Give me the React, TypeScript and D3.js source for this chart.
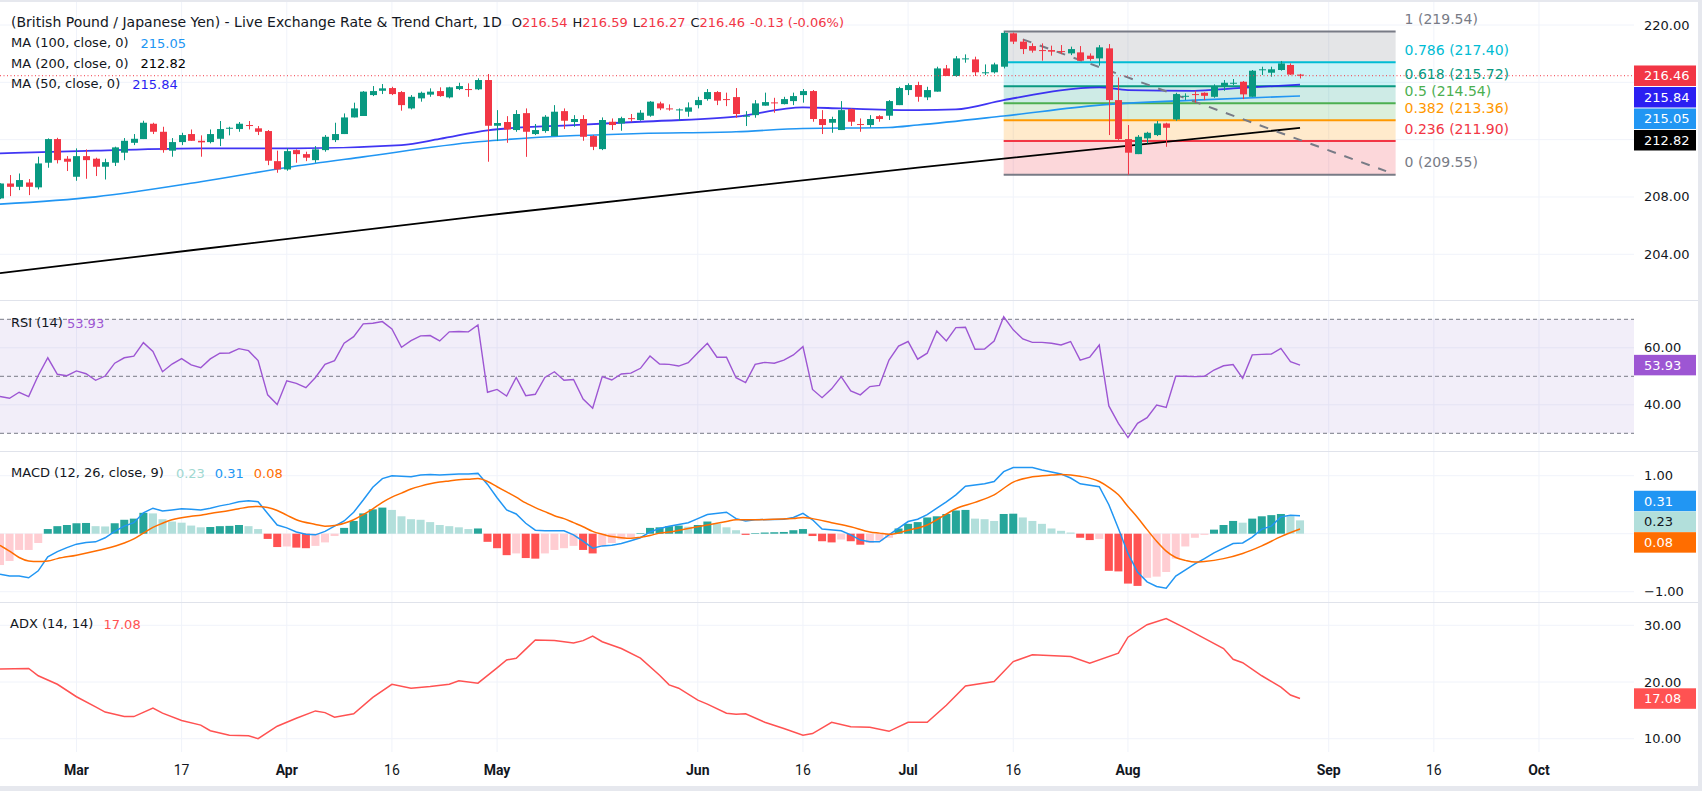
import React from "react";
import * as d3 from "d3";

// ---------- DATA ----------
const opens = [207.90,208.94,208.71,209.01,208.67,210.39,212.04,210.67,209.41,210.85,
210.67,210.11,210.39,211.09,211.78,212.04,213.11,212.55,211.23,211.83,
212.39,211.92,211.83,212.06,212.79,212.74,213.02,212.79,212.60,210.50,
209.92,211.27,210.99,210.57,211.27,211.97,212.39,213.55,213.65,215.11,
215.41,215.60,215.32,214.18,214.88,215.14,215.39,214.95,215.53,215.53,
215.51,216.16,212.97,213.23,212.67,213.85,212.39,212.60,212.25,213.99,
213.23,213.44,212.25,211.34,213.25,213.13,213.50,213.37,213.67,214.53,
214.18,214.06,213.95,214.41,214.83,215.32,214.83,214.97,213.60,213.71,
214.37,214.60,214.48,214.69,215.11,215.39,213.44,213.18,212.67,214.13,
213.09,213.02,213.64,213.67,214.41,215.46,215.81,214.95,215.35,216.97,
216.44,217.60,217.60,216.65,216.70,217.09,219.42,218.84,218.53,218.25,
218.25,218.18,218.02,218.09,217.86,217.67,218.37,214.76,212.04,210.99,
212.09,212.32,213.13,213.41,215.02,215.18,215.27,214.99,215.69,215.93,
216.04,214.99,216.86,216.67,216.86,217.21,216.54];
const highs = [208.96,209.53,209.64,209.25,210.81,212.09,212.13,210.85,211.39,211.32,
210.74,210.67,211.51,212.11,212.39,213.32,213.18,212.90,212.11,212.48,
212.71,212.30,212.71,213.30,212.90,213.23,213.30,212.95,212.67,211.23,
211.39,211.32,211.16,211.55,212.32,213.18,213.83,214.58,215.39,215.74,
215.88,215.69,215.39,215.11,215.35,215.58,215.65,215.69,215.97,215.93,
216.28,216.58,214.06,213.64,214.06,214.18,213.09,213.71,214.41,214.18,
213.71,213.71,212.32,213.55,213.48,213.60,213.79,214.06,214.69,214.65,
214.46,214.18,214.60,214.99,215.53,215.39,215.28,215.60,213.99,214.76,
215.28,214.92,214.99,215.28,215.53,215.46,214.06,213.60,214.69,214.18,
213.48,213.71,213.71,214.76,215.69,215.93,216.04,215.69,217.09,217.21,
217.83,217.95,217.79,217.25,217.37,219.54,219.47,219.00,218.72,218.72,
218.56,218.60,218.49,218.53,218.02,218.60,218.67,216.34,213.02,212.32,
212.55,213.30,213.18,215.27,215.23,215.41,215.30,215.86,216.16,216.23,
216.09,216.86,217.09,217.09,217.49,217.32,216.59];
const lows = [207.85,208.06,208.48,208.13,208.53,210.04,210.34,209.81,209.13,209.27,
209.46,209.22,210.16,210.57,211.62,212.04,212.39,211.09,210.81,211.62,
211.92,210.81,211.74,211.55,212.30,212.55,212.71,212.32,210.22,209.69,
209.83,210.39,210.50,210.39,211.16,211.83,212.39,213.55,213.65,215.04,
215.18,215.11,214.02,214.11,214.65,214.99,214.99,214.88,215.46,214.99,
215.46,210.46,211.90,211.78,212.55,210.80,212.32,212.48,212.25,212.74,
212.90,211.92,211.27,211.27,212.67,212.62,213.25,213.32,213.60,214.06,
214.02,213.32,213.60,214.18,214.72,214.41,214.34,213.53,212.95,213.53,
214.37,213.88,214.46,214.41,214.58,213.25,212.39,212.48,212.67,212.95,
212.55,212.85,213.25,213.37,214.41,215.11,214.65,214.76,215.35,216.44,
216.39,217.37,216.44,216.51,216.62,216.97,218.67,217.97,218.07,217.51,
217.86,217.97,217.90,217.51,217.51,217.16,212.32,211.98,209.55,210.99,
211.74,212.25,211.50,213.32,214.76,214.58,214.76,214.92,215.41,215.81,
214.83,214.99,216.51,216.39,216.81,216.51,216.27];
const closes = [208.94,208.71,209.18,208.71,210.34,212.04,210.57,210.46,210.85,210.57,
210.11,210.43,211.46,211.92,212.06,213.18,212.55,211.27,211.83,212.32,
211.92,211.81,212.39,212.74,212.83,213.11,212.97,212.55,210.53,209.92,
211.20,210.99,210.74,211.32,212.20,212.39,213.55,214.18,215.35,215.39,
215.58,215.18,214.41,214.99,215.27,215.35,215.04,215.65,215.74,215.51,
216.16,212.97,213.16,212.71,213.79,212.55,212.67,213.60,213.95,213.32,
213.44,212.20,211.50,213.37,213.02,213.50,213.46,213.88,214.65,214.18,
214.13,214.11,214.25,214.76,215.32,214.72,214.79,213.79,213.67,214.53,
214.62,214.55,214.83,215.04,215.39,213.44,213.02,213.44,214.06,213.25,
213.04,213.44,213.44,214.69,215.60,215.81,214.99,215.46,216.97,216.44,
217.67,217.67,216.70,216.70,217.25,219.45,218.84,218.32,218.21,218.21,
218.14,218.14,218.32,217.51,217.63,218.44,214.76,212.04,211.09,212.20,
212.48,213.13,212.83,215.18,215.06,215.14,215.06,215.69,215.97,215.97,
215.16,216.81,216.91,216.91,217.32,216.54,216.46];
const change = "-0.13 (-0.06%)";

const ma50Idx = [0,10,21,31,42,46,51,60,67,77,84,88,96,100,105,115,118,125,129,136];
const ma50Val = [211.04,211.23,211.39,211.39,211.62,212.05,212.65,213.02,213.25,213.60,214.25,214.18,214.06,214.11,214.76,215.65,215.46,215.41,215.58,215.84];
const ma100Idx = [0,10,21,30,38,50,56,67,77,84,93,96,105,115,125,136];
const ma100Val = [207.50,208.01,209.06,210.06,210.80,211.85,212.15,212.43,212.55,212.78,212.85,213.02,213.65,214.41,214.76,215.05];
const ma200Idx = [0,12,50,96,136];
const ma200Val = [202.68,203.64,206.65,210.05,212.82];

const fibRatios = [1, 0.786, 0.618, 0.5, 0.382, 0.236, 0];
const fibPrices = [219.54, 217.40, 215.72, 214.54, 213.36, 211.90, 209.55];
const fibColors = ["#787b86", "#00bcd4", "#089981", "#4caf50", "#ff9800", "#f23645", "#787b86"];
const fibSpan = [105, 146];
const trendIdx = [107, 145];
const trendVal = [219.0, 209.8];

const rsi = [42.9,42.3,44.4,42.9,50.3,56.5,50.7,50.2,51.9,50.9,
48.6,50.1,54.6,56.5,57.1,61.8,58.7,51.6,54.3,56.2,
54.0,53.0,56.1,58.1,58.2,59.7,59.0,55.5,43.5,40.1,
48.4,47.5,46.0,49.6,54.2,55.5,61.6,63.9,68.4,68.6,
69.2,66.6,60.2,62.5,64.2,64.3,62.4,65.6,65.7,65.6,
68.0,44.4,45.4,43.1,49.6,43.2,43.7,49.6,51.6,48.6,
48.9,42.0,38.8,49.9,48.7,50.8,51.1,52.8,57.1,54.3,
54.2,53.6,54.8,58.3,61.6,56.7,56.7,49.5,47.8,54.2,
54.9,54.6,55.7,57.5,60.4,45.4,42.5,45.6,49.9,44.9,
43.5,46.4,46.8,55.7,60.6,62.2,56.0,58.1,65.9,62.4,
67.1,67.2,59.5,59.6,62.4,70.9,66.3,63.1,61.9,61.9,
61.6,61.0,62.2,55.7,56.7,61.0,39.6,33.5,28.5,33.5,
35.5,39.9,39.1,50.0,50.0,49.9,50.0,52.2,53.7,54.1,
49.3,57.5,57.7,57.8,59.8,55.1,53.93];

const macdHist = [-0.54,-0.47,-0.28,-0.28,-0.16,0.08,0.13,0.15,0.18,0.185,
0.13,0.125,0.18,0.24,0.26,0.36,0.35,0.25,0.21,0.19,
0.14,0.11,0.115,0.13,0.135,0.15,0.13,0.08,-0.09,-0.23,
-0.22,-0.24,-0.25,-0.21,-0.15,-0.04,0.10,0.22,0.35,0.42,
0.45,0.41,0.30,0.25,0.24,0.20,0.15,0.13,0.11,0.08,
0.09,-0.14,-0.25,-0.37,-0.34,-0.42,-0.43,-0.34,-0.28,-0.25,
-0.21,-0.28,-0.34,-0.21,-0.16,-0.10,-0.06,0.01,0.10,0.11,
0.13,0.14,0.12,0.15,0.21,0.17,0.11,0.06,-0.02,0.01,
0.02,0.025,0.03,0.06,0.08,-0.04,-0.13,-0.15,-0.10,-0.13,
-0.19,-0.16,-0.12,-0.07,0.09,0.17,0.20,0.28,0.30,0.34,
0.40,0.41,0.26,0.25,0.22,0.34,0.345,0.28,0.22,0.17,
0.09,0.05,0.02,-0.07,-0.11,-0.09,-0.64,-0.65,-0.86,-0.90,
-0.76,-0.74,-0.66,-0.43,-0.22,-0.07,-0.02,0.07,0.15,0.22,
0.19,0.26,0.30,0.32,0.34,0.30,0.23];

const macdIdx = [0,1,2,3,4,5,6,7,8,9,10,11,12,13,14,15,16,17,18,19,20,21,22,23,24,25,26,27,28,29,30,31,32,33,34,35,36,37,38,39,40,41,42,43,44,45,46,47,48,49,50,51,52,53,54,55,56,57,58,59,60,61,62,63,64,65,66,67,68,69,70,72,73,74,76,77,78,79,82,83,84,85,86,88,89,90,91,92,93,95,96,97,99,100,101,103,104,105,106,108,109,111,112,113,115,116,117,118,119,120,121,122,123,125,126,127,129,130,131,132,133,134,135,136];
const macdVal = [-0.70,-0.73,-0.73,-0.76,-0.64,-0.40,-0.31,-0.24,-0.18,-0.15,-0.14,-0.07,0.04,0.13,0.19,0.36,0.44,0.39,0.41,0.43,0.42,0.41,0.44,0.48,0.51,0.55,0.57,0.55,0.35,0.15,0.10,0.03,-0.01,-0.02,0.04,0.13,0.22,0.37,0.58,0.80,0.95,1.00,0.99,0.98,1.01,1.02,1.01,1.02,1.03,1.03,1.04,0.85,0.62,0.41,0.34,0.18,0.06,0.05,0.05,0.05,-0.02,-0.13,-0.25,-0.21,-0.20,-0.17,-0.12,-0.07,0.03,0.09,0.13,0.19,0.26,0.33,0.37,0.26,0.22,0.24,0.25,0.28,0.35,0.24,0.08,0.05,-0.02,-0.11,-0.14,-0.14,-0.02,0.21,0.25,0.33,0.55,0.67,0.82,0.86,0.90,1.07,1.14,1.14,1.10,1.03,0.96,0.86,0.81,0.50,0.09,-0.34,-0.66,-0.83,-0.91,-0.94,-0.73,-0.52,-0.43,-0.33,-0.17,-0.16,-0.06,0.08,0.13,0.29,0.32,0.31];

const signalIdx = [0,1,2,3,4,5,6,8,10,11,13,14,15,16,17,18,20,21,22,24,25,26,27,28,29,30,31,33,34,35,36,37,38,39,40,41,42,43,44,45,46,47,48,49,50,51,52,53,54,55,56,57,58,59,60,61,62,63,64,65,66,67,68,69,70,72,74,76,77,79,81,83,84,85,87,89,91,92,93,95,97,98,100,102,104,106,108,110,111,113,115,116,117,118,119,120,121,122,123,124,125,126,128,130,132,134,136];
const signalVal = [-0.20,-0.30,-0.41,-0.47,-0.48,-0.47,-0.43,-0.37,-0.30,-0.26,-0.16,-0.09,0.01,0.11,0.18,0.24,0.30,0.32,0.35,0.40,0.43,0.46,0.47,0.45,0.40,0.32,0.24,0.16,0.13,0.14,0.18,0.24,0.33,0.43,0.54,0.63,0.70,0.77,0.82,0.86,0.89,0.91,0.93,0.94,0.95,0.90,0.81,0.72,0.63,0.53,0.45,0.38,0.31,0.26,0.19,0.12,0.04,-0.01,-0.05,-0.07,-0.08,-0.06,-0.03,0.01,0.03,0.09,0.15,0.21,0.24,0.24,0.25,0.26,0.28,0.26,0.19,0.12,0.03,0.01,-0.01,0.06,0.15,0.24,0.43,0.54,0.67,0.89,0.98,1.01,1.02,0.99,0.90,0.80,0.67,0.47,0.28,0.07,-0.13,-0.30,-0.41,-0.46,-0.49,-0.48,-0.43,-0.34,-0.21,-0.05,0.08];

const adxIdx = [0,3,4,6,8,10,11,13,14,16,17,19,21,22,24,26,27,29,31,33,34,35,37,39,41,43,45,47,48,50,52,53,54,55,56,58,60,61,62,63,65,67,69,70,71,73,74,76,77,78,80,82,84,85,87,89,91,93,95,97,99,101,104,106,108,112,114,117,118,120,122,124,126,128,129,130,132,134,135,136];
const adxVal = [22.3,22.4,21.1,19.6,17.4,15.6,14.7,13.9,13.9,15.4,14.5,13.2,12.4,11.4,10.6,10.5,10.0,12.2,13.6,14.9,14.6,13.8,14.4,17.3,19.6,18.9,19.2,19.6,20.2,19.8,22.5,23.9,24.2,25.8,27.4,27.3,26.9,27.3,28.1,27.1,25.9,24.2,21.2,19.5,18.9,16.8,16.1,14.5,14.3,14.4,12.9,11.8,10.6,10.9,12.9,12.1,12.0,11.3,12.9,12.9,15.9,19.3,20.1,23.6,24.8,24.5,23.3,25.1,27.9,30.1,31.2,29.5,27.7,25.9,24.0,23.4,21.1,19.1,17.7,17.08];

const tickIdx = [8, 19, 30, 41, 52, 73, 84, 95, 106, 118, 139, 150, 161];
const tickLabels = ["Mar", "17", "Apr", "16", "May", "Jun", "16", "Jul", "16", "Aug", "Sep", "16", "Oct"];

const mainTicks = [220, 216, 212, 208, 204];
const rsiTicks = [60, 40];
const rsiBands = [70, 50, 30];
const macdTicks = [1, 0, -1];
const adxTicks = [30, 20, 10];

// ---------- STYLE ----------
const UP = "#089981";
const DOWN = "#f23645";
const C_MA50 = "#2b1ff2";
const C_MA100 = "#2196f3";
const C_MA200 = "#000000";
const C_RSI = "#9d56d3";
const C_MACD = "#2196f3";
const C_SIG = "#ff6d00";
const C_ADX = "#ff5252";
const GRID = "#f0f3fa";
const SEP = "#e0e3eb";
const TXT = "#131722";
const FONT = "'DejaVu Sans', sans-serif";
const TFONT = "Roboto, sans-serif";

const fmt = d3.format(".2f");

type Lab = { y: number; text: string; bg: string; fg: string };
function stackDown(items: Lab[], gap: number) {
  const s = [...items].sort((a, b) => a.y - b.y);
  for (let i = 1; i < s.length; i++) if (s[i].y < s[i - 1].y + gap) s[i].y = s[i - 1].y + gap;
  return s;
}
function centerStack(items: Lab[], gap: number) {
  const s = [...items].sort((a, b) => a.y - b.y);
  const m = d3.mean(s, (d) => d.y) as number;
  s.forEach((d, k) => (d.y = m + (k - (s.length - 1) / 2) * gap));
  return s;
}

export default function App() {
  const W = 1702, H = 791;
  const plotR = 1634;
  const step = 9.559;
  const x = d3.scaleLinear().domain([0, 161]).range([0, 161 * step]);
  const yMain = d3.scaleLinear().domain([204, 220]).range([254.3, 25]);
  const yRsi = d3.scaleLinear().domain([30, 70]).range([433.3, 319.3]);
  const yMacd = d3.scaleLinear().domain([-1, 1]).range([591.7, 475.7]);
  const yAdx = d3.scaleLinear().domain([10, 30]).range([738.7, 625.3]);

  const panes = [
    { id: "pMain", y0: 2, y1: 300.5 },
    { id: "pRsi", y0: 300.5, y1: 451.5 },
    { id: "pMacd", y0: 451.5, y1: 602.5 },
    { id: "pAdx", y0: 602.5, y1: 752 },
  ];

  const lineFrom = (idx: number[], val: number[], ys: d3.ScaleLinear<number, number>, curve: d3.CurveFactory = d3.curveLinear) =>
    d3.line<number>().x((i) => x(idx[i])).y((i) => ys(val[i])).curve(curve)(idx.map((_, i) => i)) as string;

  const ma50Path = lineFrom(ma50Idx, ma50Val, yMain, d3.curveMonotoneX);
  const ma100Path = lineFrom(ma100Idx, ma100Val, yMain, d3.curveMonotoneX);
  const ma200Path = lineFrom(ma200Idx, ma200Val, yMain, d3.curveMonotoneX);
  const rsiPath = lineFrom(rsi.map((_, i) => i), rsi, yRsi);
  const macdPath = lineFrom(macdIdx, macdVal, yMacd);
  const sigPath = lineFrom(signalIdx, signalVal, yMacd, d3.curveMonotoneX);
  const adxPath = lineFrom(adxIdx, adxVal, yAdx);

  const n = closes.length;
  const last = n - 1;
  const lastUp = closes[last] >= opens[last];

  const mainLabels = stackDown(
    [
      { y: yMain(closes[last]), text: fmt(closes[last]), bg: lastUp ? UP : DOWN, fg: "#fff" },
      { y: yMain(ma50Val[ma50Val.length - 1]), text: fmt(ma50Val[ma50Val.length - 1]), bg: C_MA50, fg: "#fff" },
      { y: yMain(ma100Val[ma100Val.length - 1]), text: fmt(ma100Val[ma100Val.length - 1]), bg: C_MA100, fg: "#fff" },
      { y: yMain(ma200Val[ma200Val.length - 1]), text: fmt(ma200Val[ma200Val.length - 1]), bg: "#000", fg: "#fff" },
    ],
    21.5
  );
  const lastMacd = macdVal[macdVal.length - 1];
  const lastSig = signalVal[signalVal.length - 1];
  const lastHist = macdHist[last];
  const macdLabels = centerStack(
    [
      { y: yMacd(lastMacd), text: fmt(lastMacd), bg: C_MACD, fg: "#fff" },
      { y: yMacd(lastHist), text: fmt(lastHist), bg: "#b2dfdb", fg: TXT },
      { y: yMacd(lastSig), text: fmt(lastSig), bg: C_SIG, fg: "#fff" },
    ],
    20.7
  );
  const rsiLast = rsi[last];
  const adxLast = adxVal[adxVal.length - 1];
  const rsiBox: Lab = { y: yRsi(rsiLast), text: fmt(rsiLast), bg: C_RSI, fg: "#fff" };
  const adxBox: Lab = { y: yAdx(adxLast), text: fmt(adxLast), bg: C_ADX, fg: "#fff" };

  const histColor = (i: number) => {
    const h = macdHist[i];
    const p = i > 0 ? macdHist[i - 1] : h;
    if (h >= 0) return h > p ? "#26a69a" : "#b2dfdb";
    return h < p ? "#ff5252" : "#ffcdd2";
  };

  const valueBox = (l: Lab, k: string) => (
    <g key={k}>
      <rect x={plotR} y={l.y - 10.25} width={62} height={20.5} fill={l.bg} />
      <text x={1644} y={l.y} dominantBaseline="central" fontSize={13} fill={l.fg}>{l.text}</text>
    </g>
  );
  const axisLabels = (ticks: number[], ys: d3.ScaleLinear<number, number>, boxes: Lab[], key: string) =>
    ticks
      .filter((t) => boxes.every((b) => Math.abs(b.y - ys(t)) >= 16))
      .map((t) => (
        <text key={key + t} x={1644} y={ys(t)} dominantBaseline="central" fontSize={13} fill={TXT}>{fmt(t)}</text>
      ));

  const up = (i: number) => closes[i] >= opens[i];

  return (
    <svg width={W} height={H} style={{ position: "absolute", left: 0, top: 0, display: "block" }} fontFamily={FONT}>
      <defs>
        {panes.map((p) => (
          <clipPath id={p.id} key={p.id}>
            <rect x={0} y={p.y0} width={plotR} height={p.y1 - p.y0} />
          </clipPath>
        ))}
      </defs>
      <rect x={0} y={0} width={W} height={H} fill="#fff" />

      {/* grids */}
      {panes.map((p) =>
        tickIdx.map((t, k) => (
          <line key={p.id + k} x1={x(t)} x2={x(t)} y1={p.y0} y2={p.y1} stroke={GRID} strokeWidth={1} />
        ))
      )}
      {mainTicks.map((t) => <line key={"gm" + t} x1={0} x2={plotR} y1={yMain(t)} y2={yMain(t)} stroke={GRID} />)}
      {rsiTicks.map((t) => <line key={"gr" + t} x1={0} x2={plotR} y1={yRsi(t)} y2={yRsi(t)} stroke={GRID} />)}
      {macdTicks.map((t) => <line key={"gd" + t} x1={0} x2={plotR} y1={yMacd(t)} y2={yMacd(t)} stroke={GRID} />)}
      {adxTicks.map((t) => <line key={"ga" + t} x1={0} x2={plotR} y1={yAdx(t)} y2={yAdx(t)} stroke={GRID} />)}

      {/* MAIN PANE */}
      <g clipPath="url(#pMain)">
        {fibPrices.slice(0, -1).map((p, k) => (
          <rect key={"fz" + k} x={x(fibSpan[0])} width={x(fibSpan[1]) - x(fibSpan[0])}
            y={yMain(p)} height={yMain(fibPrices[k + 1]) - yMain(p)} fill={fibColors[k]} fillOpacity={0.2} />
        ))}
        {fibPrices.map((p, k) => (
          <line key={"fl" + k} x1={x(fibSpan[0])} x2={x(fibSpan[1])} y1={yMain(p)} y2={yMain(p)} stroke={fibColors[k]} strokeWidth={2} />
        ))}
        <path d={ma200Path} fill="none" stroke={C_MA200} strokeWidth={1.8} />
        <path d={ma100Path} fill="none" stroke={C_MA100} strokeWidth={1.6} />
        <path d={ma50Path} fill="none" stroke={C_MA50} strokeWidth={1.8} strokeOpacity={0.9} />
        <line x1={x(trendIdx[0])} y1={yMain(trendVal[0])} x2={x(trendIdx[1])} y2={yMain(trendVal[1])}
          stroke="#787b86" strokeWidth={2} strokeDasharray="9 9" />
        {opens.map((o, i) => {
          const c = closes[i];
          const col = up(i) ? UP : DOWN;
          const cx = Math.round(x(i));
          const yt = yMain(Math.max(o, c));
          const yb = yMain(Math.min(o, c));
          return (
            <g key={"c" + i}>
              <line x1={cx + 0.5} x2={cx + 0.5} y1={yMain(highs[i])} y2={yMain(lows[i])} stroke={col} strokeWidth={1} />
              <rect x={cx - 3} y={yt} width={7} height={Math.max(1, yb - yt)} fill={col} />
            </g>
          );
        })}
        <line x1={0} x2={plotR} y1={yMain(closes[last])} y2={yMain(closes[last])} stroke={DOWN} strokeWidth={1} strokeDasharray="1 2.5" />
      </g>
      {fibPrices.map((p, k) => (
        <text key={"ft" + k} x={x(fibSpan[1]) + 9} y={yMain(p) - 12.5} dominantBaseline="central" fontSize={14} fill={fibColors[k]}>
          {`${fibRatios[k]} (${fmt(p)})`}
        </text>
      ))}

      {/* RSI PANE */}
      <g clipPath="url(#pRsi)">
        <rect x={0} width={plotR} y={yRsi(70)} height={yRsi(30) - yRsi(70)} fill="#7e57c2" fillOpacity={0.1} />
        {rsiBands.map((b) => (
          <line key={"rb" + b} x1={0} x2={plotR} y1={yRsi(b)} y2={yRsi(b)} stroke="#787b86" strokeDasharray="4 3" strokeWidth={1} />
        ))}
        <path d={rsiPath} fill="none" stroke={C_RSI} strokeWidth={1.4} />
      </g>

      {/* MACD PANE */}
      <g clipPath="url(#pMacd)">
        {macdHist.map((h, i) => (
          <rect key={"h" + i} x={x(i) - 4} width={8} y={yMacd(Math.max(h, 0))}
            height={Math.abs(yMacd(h) - yMacd(0))} fill={histColor(i)} />
        ))}
        <path d={macdPath} fill="none" stroke={C_MACD} strokeWidth={1.5} />
        <path d={sigPath} fill="none" stroke={C_SIG} strokeWidth={1.5} />
      </g>

      {/* ADX PANE */}
      <g clipPath="url(#pAdx)">
        <path d={adxPath} fill="none" stroke={C_ADX} strokeWidth={1.5} />
      </g>

      {/* separators */}
      {panes.slice(1).map((p) => (
        <line key={"s" + p.id} x1={0} x2={W} y1={p.y0} y2={p.y0} stroke={SEP} strokeWidth={1.2} />
      ))}

      {/* right axis labels */}
      {axisLabels(mainTicks, yMain, mainLabels, "am")}
      {axisLabels(rsiTicks, yRsi, [rsiBox], "ar")}
      {axisLabels(macdTicks, yMacd, macdLabels, "ad")}
      {axisLabels(adxTicks, yAdx, [adxBox], "aa")}
      {mainLabels.map((l, k) => valueBox(l, "ml" + k))}
      {macdLabels.map((l, k) => valueBox(l, "dl" + k))}
      {valueBox(rsiBox, "rl")}
      {valueBox(adxBox, "al")}

      {/* time axis */}
      {tickIdx.map((t, k) => (
        <text key={"tx" + k} x={x(t)} y={770} textAnchor="middle" dominantBaseline="central" fontSize={14}
          fontFamily={TFONT} fontWeight={isNaN(+tickLabels[k]) ? 700 : 400} fill={TXT}>{tickLabels[k]}</text>
      ))}

      {/* legends */}
      <text x={11} y={22} dominantBaseline="central" fontSize={13} fill={TXT}>
        <tspan fontSize={14}>(British Pound / Japanese Yen) - Live Exchange Rate &amp; Trend Chart, 1D</tspan>
        <tspan dx={10}>O</tspan><tspan fill={DOWN}>{fmt(opens[last])}</tspan>
        <tspan dx={5}>H</tspan><tspan fill={DOWN}>{fmt(highs[last])}</tspan>
        <tspan dx={5}>L</tspan><tspan fill={DOWN}>{fmt(lows[last])}</tspan>
        <tspan dx={5}>C</tspan><tspan fill={DOWN}>{fmt(closes[last])}</tspan>
        <tspan dx={5} fill={DOWN}>{change}</tspan>
      </text>
      <text x={11} y={42.5} dominantBaseline="central" fontSize={13} fill={TXT}>
        MA (100, close, 0)<tspan dx={12} fill={C_MA100}>{fmt(ma100Val[ma100Val.length - 1])}</tspan>
      </text>
      <text x={11} y={63} dominantBaseline="central" fontSize={13} fill={TXT}>
        MA (200, close, 0)<tspan dx={12} fill={C_MA200}>{fmt(ma200Val[ma200Val.length - 1])}</tspan>
      </text>
      <text x={11} y={83.5} dominantBaseline="central" fontSize={13} fill={TXT}>
        MA (50, close, 0)<tspan dx={12} fill={C_MA50}>{fmt(ma50Val[ma50Val.length - 1])}</tspan>
      </text>
      <text x={11} y={322.5} dominantBaseline="central" fontSize={13} fill={TXT}>
        RSI (14)<tspan dx={4} fill={C_RSI}>{fmt(rsiLast)}</tspan>
      </text>
      <text x={11} y={472.5} dominantBaseline="central" fontSize={13} fill={TXT}>
        MACD (12, 26, close, 9)<tspan dx={12} fill="#9fd8d1">{fmt(lastHist)}</tspan>
        <tspan dx={10} fill={C_MACD}>{fmt(lastMacd)}</tspan>
        <tspan dx={10} fill={C_SIG}>{fmt(lastSig)}</tspan>
      </text>
      <text x={10} y={623.5} dominantBaseline="central" fontSize={13} fill={TXT}>
        ADX (14, 14)<tspan dx={10} fill={C_ADX}>{fmt(adxLast)}</tspan>
      </text>

      {/* frame */}
      <rect x={0} y={0} width={W} height={2} fill="#e6e8ee" />
      <rect x={1698} y={0} width={4} height={H} fill="#e6e8ee" />
      <rect x={0} y={786} width={W} height={5} fill="#e6e8ee" />
    </svg>
  );
}
